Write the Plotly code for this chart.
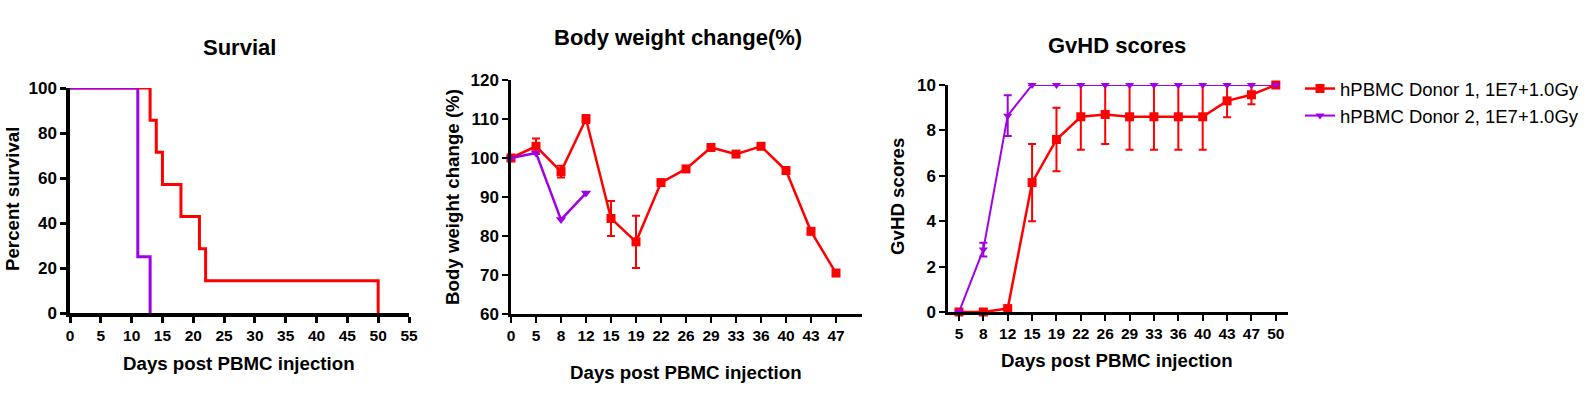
import plotly.graph_objects as go

RED = "#FF0000"
PURPLE = "#A000E6"
FONT = "Liberation Sans"

surv_days_d1 = [0, 13, 14, 15, 18, 21, 22, 50]
surv_pct_d1 = [100, 85.7, 71.4, 57.1, 42.9, 28.6, 14.3, 0]
surv_days_d2 = [0, 11, 13]
surv_pct_d2 = [100, 25, 0]
surv_xticks = [0, 5, 10, 15, 20, 25, 30, 35, 40, 45, 50, 55]

bw_days = ["0", "5", "8", "12", "15", "19", "22", "26", "29", "33", "36", "40", "43", "47"]
bw_d1 = [100, 103, 96.5, 110, 84.5, 78.5, 93.7, 97.2, 102.7, 101, 103, 96.8, 81.2, 70.5]
bw_d1_err = [0.3, 2, 1.5, 1, 4.5, 6.7, 0.5, 0.5, 0.5, 0.5, 0.5, 0.5, 0.5, 0.5]
bw_days_d2 = ["0", "5", "8", "12"]
bw_d2 = [100, 101.3, 84.2, 91]

gv_days = ["5", "8", "12", "15", "19", "22", "26", "29", "33", "36", "40", "43", "47", "50"]
gv_d1 = [0, 0, 0.15, 5.7, 7.6, 8.6, 8.7, 8.6, 8.6, 8.6, 8.6, 9.3, 9.57, 10]
gv_d1_err = [0, 0, 0.05, 1.7, 1.4, 1.45, 1.3, 1.45, 1.45, 1.45, 1.45, 0.72, 0.42, 0]
gv_d2 = [0, 2.75, 8.65, 10, 10, 10, 10, 10, 10, 10, 10, 10, 10, 10]
gv_d2_err = [0, 0.3, 0.9, 0, 0, 0, 0, 0, 0, 0, 0, 0, 0, 0]

NAME1 = "hPBMC Donor 1, 1E7+1.0Gy"
NAME2 = "hPBMC Donor 2, 1E7+1.0Gy"

fig = go.Figure()
fig.add_trace(go.Scatter(x=surv_days_d1, y=surv_pct_d1, mode="lines", line=dict(color=RED, width=3, shape="hv"),
                         xaxis="x", yaxis="y", showlegend=False, cliponaxis=False))
fig.add_trace(go.Scatter(x=surv_days_d2, y=surv_pct_d2, mode="lines", line=dict(color=PURPLE, width=3, shape="hv"),
                         xaxis="x", yaxis="y", showlegend=False, cliponaxis=False))
fig.add_trace(go.Scatter(x=bw_days, y=bw_d1, mode="lines+markers", line=dict(color=RED, width=2.5),
                         marker=dict(symbol="square", size=9, color=RED),
                         error_y=dict(type="data", array=bw_d1_err, color=RED, thickness=2, width=4),
                         xaxis="x2", yaxis="y2", showlegend=False, cliponaxis=False))
fig.add_trace(go.Scatter(x=bw_days_d2, y=bw_d2, mode="lines+markers", line=dict(color=PURPLE, width=2.5),
                         marker=dict(symbol="triangle-down", size=9, color=PURPLE),
                         xaxis="x2", yaxis="y2", showlegend=False, cliponaxis=False))
fig.add_trace(go.Scatter(x=gv_days, y=gv_d1, mode="lines+markers", name=NAME1, line=dict(color=RED, width=2.5),
                         marker=dict(symbol="square", size=9, color=RED),
                         error_y=dict(type="data", array=gv_d1_err, color=RED, thickness=2, width=4),
                         xaxis="x3", yaxis="y3", cliponaxis=False))
fig.add_trace(go.Scatter(x=gv_days, y=gv_d2, mode="lines+markers", name=NAME2, line=dict(color=PURPLE, width=2),
                         marker=dict(symbol="triangle-down", size=8, color=PURPLE),
                         error_y=dict(type="data", array=gv_d2_err, color=PURPLE, thickness=2, width=4),
                         xaxis="x3", yaxis="y3", cliponaxis=False))

W, H = 1593, 395

def px(v):
    return v / W

def py(v):
    return (H - v) / H

xtickfont = dict(family=FONT, size=15.5, color="black", weight="bold")
ytickfont = dict(family=FONT, size=17, color="black", weight="bold")
common = dict(showgrid=False, zeroline=False, showline=True, linecolor="black", linewidth=2.5,
              ticks="outside", ticklen=6, tickwidth=2, tickcolor="black", automargin=False)
surv_common = dict(common, linewidth=3.5, tickwidth=2.5)

fig.update_layout(
    width=W, height=H, margin=dict(l=0, r=0, t=0, b=0, autoexpand=False),
    paper_bgcolor="white", plot_bgcolor="white",
    xaxis=dict(domain=[px(70), px(409)], range=[0, 55], tickvals=surv_xticks, anchor="y",
               tickfont=xtickfont, **surv_common),
    yaxis=dict(domain=[py(313), py(88)], range=[0, 100], tickvals=[0, 20, 40, 60, 80, 100], anchor="x",
               tickfont=ytickfont, **surv_common),
    xaxis2=dict(domain=[px(511), px(862)], type="category", categoryorder="array", categoryarray=bw_days,
                range=[0, 14.04], anchor="y2", tickfont=xtickfont, **common),
    yaxis2=dict(domain=[py(314), py(80)], range=[60, 120], tickvals=[60, 70, 80, 90, 100, 110, 120], anchor="x2",
                tickfont=ytickfont, **common),
    xaxis3=dict(domain=[px(948), px(1288)], type="category", categoryorder="array", categoryarray=gv_days,
                range=[-0.45, 13.5], anchor="y3", tickfont=xtickfont, **common),
    yaxis3=dict(domain=[py(312), py(85)], range=[0, 10], tickvals=[0, 2, 4, 6, 8, 10], anchor="x3",
                tickfont=ytickfont, **common),
    legend=dict(x=px(1300), y=py(70), xanchor="left", yanchor="top",
                font=dict(family=FONT, size=18.5, color="black"), bgcolor="rgba(0,0,0,0)",
                itemwidth=30),
)

title_font = dict(family=FONT, size=22, color="black", weight="bold")
axis_font = dict(family=FONT, size=18.7, color="black", weight="bold")

annots = [
    dict(text="Survial", x=240, y=48, font=title_font),
    dict(text="Body weight change(%)", x=678, y=37, font=title_font),
    dict(text="GvHD scores", x=1117, y=46, font=title_font),
    dict(text="Days post PBMC injection", x=239, y=363, font=axis_font),
    dict(text="Days post PBMC injection", x=686, y=372, font=axis_font),
    dict(text="Days post PBMC injection", x=1117, y=360, font=axis_font),
    dict(text="Percent survival", x=12, y=199, font=axis_font, textangle=-90),
    dict(text="Body weight change (%)", x=452, y=197, font=axis_font, textangle=-90),
    dict(text="GvHD scores", x=897, y=197, font=axis_font, textangle=-90),
]
for a in annots:
    fig.add_annotation(text=a["text"], x=px(a["x"]), y=py(a["y"]), xref="paper", yref="paper",
                       xanchor="center", yanchor="middle", showarrow=False, font=a["font"],
                       textangle=a.get("textangle", 0))

fig.write_html("out.html", config={"displayModeBar": False},
               post_script="document.body.style.margin='0px';document.body.style.overflow='hidden';")
